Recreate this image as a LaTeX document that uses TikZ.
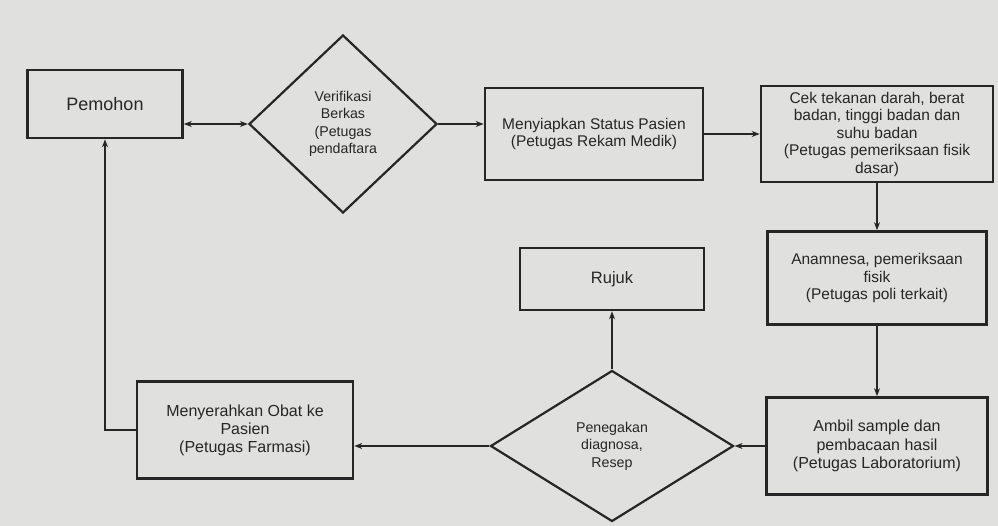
\documentclass[tikz,border=0pt]{standalone}
\usepackage{fontspec}
\setmainfont{Liberation Sans}
\usetikzlibrary{shapes.geometric,arrows.meta}
\definecolor{paper}{RGB}{224,225,222}
\definecolor{ink}{RGB}{38,38,38}
\begin{document}
\begin{tikzpicture}[x=1pt,y=-1pt,
  kotak/.style={draw=ink,line width=2.6pt,fill=paper,text=ink,align=center,inner sep=0pt,font=\fontsize{15.5}{17.5}\selectfont},
  belah/.style={diamond,draw=ink,line width=2.2pt,fill=paper,text=ink,align=center,inner sep=0pt,font=\fontsize{14.2}{17.5}\selectfont},
  panah/.style={draw=ink,line width=1.3pt,-{Stealth[length=8pt,width=6pt]}}]
\fill[paper] (0,0) rectangle (998,526);
\node[kotak, minimum width=155pt, minimum height=68pt, font=\fontsize{18}{20}\selectfont] (pemohon) at (105,104) {Pemohon};
\node[belah, minimum width=188pt, minimum height=178pt] (verif) at (343,124) {Verifikasi\\Berkas\\(Petugas\\pendaftara};
\node[kotak, minimum width=218pt, minimum height=92pt] (siap) at (594,134) {Menyiapkan Status Pasien\\(Petugas Rekam Medik)};
\node[kotak, minimum width=232pt, minimum height=96pt] (cek) at (877,134) {Cek tekanan darah, berat\\badan, tinggi badan dan\\suhu badan\\(Petugas pemeriksaan fisik\\dasar)};
\node[kotak, minimum width=219pt, minimum height=93pt] (anamnesa) at (877,278) {Anamnesa, pemeriksaan\\fisik\\(Petugas poli terkait)};
\node[kotak, minimum width=184pt, minimum height=62pt, font=\fontsize{16.5}{19}\selectfont] (rujuk) at (612,279) {Rujuk};
\node[belah, minimum width=243pt, minimum height=151pt] (diagnosa) at (612,446) {Penegakan\\diagnosa,\\Resep};
\node[kotak, minimum width=221pt, minimum height=97pt, font=\fontsize{16}{18.5}\selectfont] (lab) at (877,446) {Ambil sample dan\\pembacaan hasil\\(Petugas Laboratorium)};
\node[kotak, minimum width=216pt, minimum height=97pt, font=\fontsize{16}{18}\selectfont] (obat) at (245,430) {Menyerahkan Obat ke\\Pasien\\(Petugas Farmasi)};
\draw[panah, {Stealth[length=8pt,width=6pt]}-{Stealth[length=8pt,width=6pt]}] (verif.west -| pemohon.east) -- (verif.west);
\draw[panah] (verif.east) -- (verif.east -| siap.west);
\draw[panah] (siap.east) -- (cek.west);
\draw[panah] (cek.south) -- (anamnesa.north);
\draw[panah] (anamnesa.south) -- (lab.north);
\draw[panah] (lab.west) -- (diagnosa.east);
\draw[panah] (diagnosa.west) -- (diagnosa.west -| obat.east);
\draw[panah] (diagnosa.north) -- (rujuk.south);
\draw[panah] (obat.west) -| (pemohon.south);
\end{tikzpicture}
\end{document}
